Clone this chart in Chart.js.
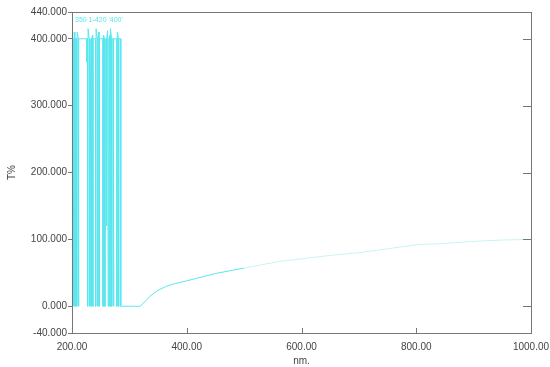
<!DOCTYPE html>
<html>
<head>
<meta charset="utf-8">
<script src="https://cdn.jsdelivr.net/npm/chart.js@4.4.1/dist/chart.umd.min.js"></script>
<style>
  html, body { margin: 0; padding: 0; background: #fff; }
  #wrap { width: 550px; height: 367px; }
</style>
</head>
<body>
<div id="wrap"><canvas id="specChart"></canvas></div>
<script>
// wavelength (nm) and transmittance (T%)
const wavelengths = [
  200, 200, 201, 202, 202, 203, 203, 204, 205, 205, 206, 206, 208, 208, 209, 209,
  211, 211, 212, 212, 226, 226, 227, 227, 228, 228, 230, 230, 231, 231, 232, 233,
  233, 234, 234, 236, 236, 237, 237, 241, 241, 242, 242, 244, 244, 245, 245, 247,
  247, 248, 248, 254, 254, 255, 255, 257, 257, 258, 258, 260, 260, 261, 262, 263,
  264, 264, 266, 266, 267, 267, 269, 269, 270, 270, 272, 272, 273, 273, 278, 278,
  279, 279, 281, 281, 282, 282, 285, 285, 287, 300, 310, 318,
  325, 336, 350, 365, 380, 400, 423, 450, 475, 500, 530, 562, 600, 650, 700, 750,
  800, 850, 900, 950, 1000
];
const transmittance = [
  0, 180, 400, 400, 0, 0, 325, 410, 400, 0, 0, 400, 400, 0, 0, 410,
  400, 0, 0, 400, 400, 365, 400, 0, 0, 415, 400, 0, 0, 400, 340, 400,
  0, 0, 400, 405, 0, 0, 400, 400, 0, 0, 415, 400, 0, 0, 400, 410,
  0, 0, 400, 400, 0, 0, 405, 400, 0, 0, 400, 400, 120, 400, 412, 0,
  0, 400, 405, 0, 0, 415, 400, 0, 0, 400, 400, 0, 0, 400, 400, 0,
  0, 410, 400, 0, 0, 400, 400, 0, 0, 0, 0, 0,
  5, 15, 24, 30, 34, 38, 43, 49, 53, 57, 62, 67, 71, 76, 80, 86,
  92, 94, 97, 99, 100
];
const yTicks = [-40, 0, 100, 200, 300, 400, 440];
const xTicks = [200, 400, 600, 800, 1000];

const points = wavelengths.map((w, i) => ({ x: w, y: transmittance[i] }));

const frameAndTicks = {
  id: 'frameAndTicks',
  afterDraw(chart) {
    const ctx = chart.ctx;
    const a = chart.chartArea;
    const xs = chart.scales.x;
    const ys = chart.scales.y;
    ctx.save();
    ctx.strokeStyle = '#777';
    ctx.lineWidth = 1;
    ctx.strokeRect(a.left + 0.5, a.top + 0.5, a.right - a.left, a.bottom - a.top);
    ctx.beginPath();
    xTicks.slice(1, -1).forEach(v => {
      const px = Math.round(xs.getPixelForValue(v)) + 0.5;
      ctx.moveTo(px, a.bottom);
      ctx.lineTo(px, a.bottom - 5);
    });
    yTicks.slice(1, -1).forEach(v => {
      const py = Math.round(ys.getPixelForValue(v)) + 0.5;
      ctx.moveTo(a.right, py);
      ctx.lineTo(a.right - 8, py);
    });
    ctx.stroke();
    ctx.fillStyle = 'rgb(90,230,238)';
    ctx.font = '7px "Liberation Sans"';
    ctx.fillText("350 1-420 '400'", a.left + 3, a.top + 10);
    ctx.restore();
  }
};

new Chart(
  document.getElementById('specChart'),
  {
    type: 'scatter',
    data: {
      datasets: [{
        data: points,
        showLine: true,
        borderColor: 'rgb(90,230,238)',
        borderWidth: 1,
        pointRadius: 0,
        tension: 0,
        segment: {
          borderColor: c => c.p0.parsed.x >= 500 ? 'rgb(198,244,244)' : 'rgb(90,230,238)'
        }
      }]
    },
    options: {
      responsive: true,
      maintainAspectRatio: false,
      animation: false,
      layout: { padding: { left: 0, right: 0, top: 12, bottom: 0 } },
      plugins: {
        legend: { display: false },
        tooltip: { enabled: false }
      },
      scales: {
        x: {
          type: 'linear',
          min: 200,
          max: 1000,
          afterBuildTicks: s => { s.ticks = xTicks.map(v => ({ value: v })); },
          afterFit: s => {
            s.height = 34;
            s.paddingLeft = 0;
            s.paddingRight = 19;
          },
          grid: { display: false, drawTicks: false },
          border: { display: false },
          ticks: {
            padding: 8,
            color: '#444',
            font: { family: 'Liberation Sans', size: 10 },
            maxRotation: 0,
            callback: v => v.toFixed(2)
          },
          title: {
            display: true,
            text: 'nm.',
            color: '#444',
            font: { family: 'Liberation Sans', size: 10 },
            padding: { top: -2, bottom: 0 }
          }
        },
        y: {
          min: -40,
          max: 440,
          afterBuildTicks: s => { s.ticks = yTicks.map(v => ({ value: v })); },
          afterFit: s => { s.width = 72; },
          grid: { drawOnChartArea: false, drawTicks: true, tickLength: 4, color: '#777' },
          border: { display: false },
          ticks: {
            padding: 1,
            color: '#444',
            font: { family: 'Liberation Sans', size: 10 },
            callback: v => v.toFixed(3)
          },
          title: {
            display: true,
            text: 'T%',
            color: '#444',
            font: { family: 'Liberation Sans', size: 10 },
            padding: { top: 6, bottom: 0 }
          }
        }
      }
    },
    plugins: [frameAndTicks]
  }
);
</script>
</body>
</html>
